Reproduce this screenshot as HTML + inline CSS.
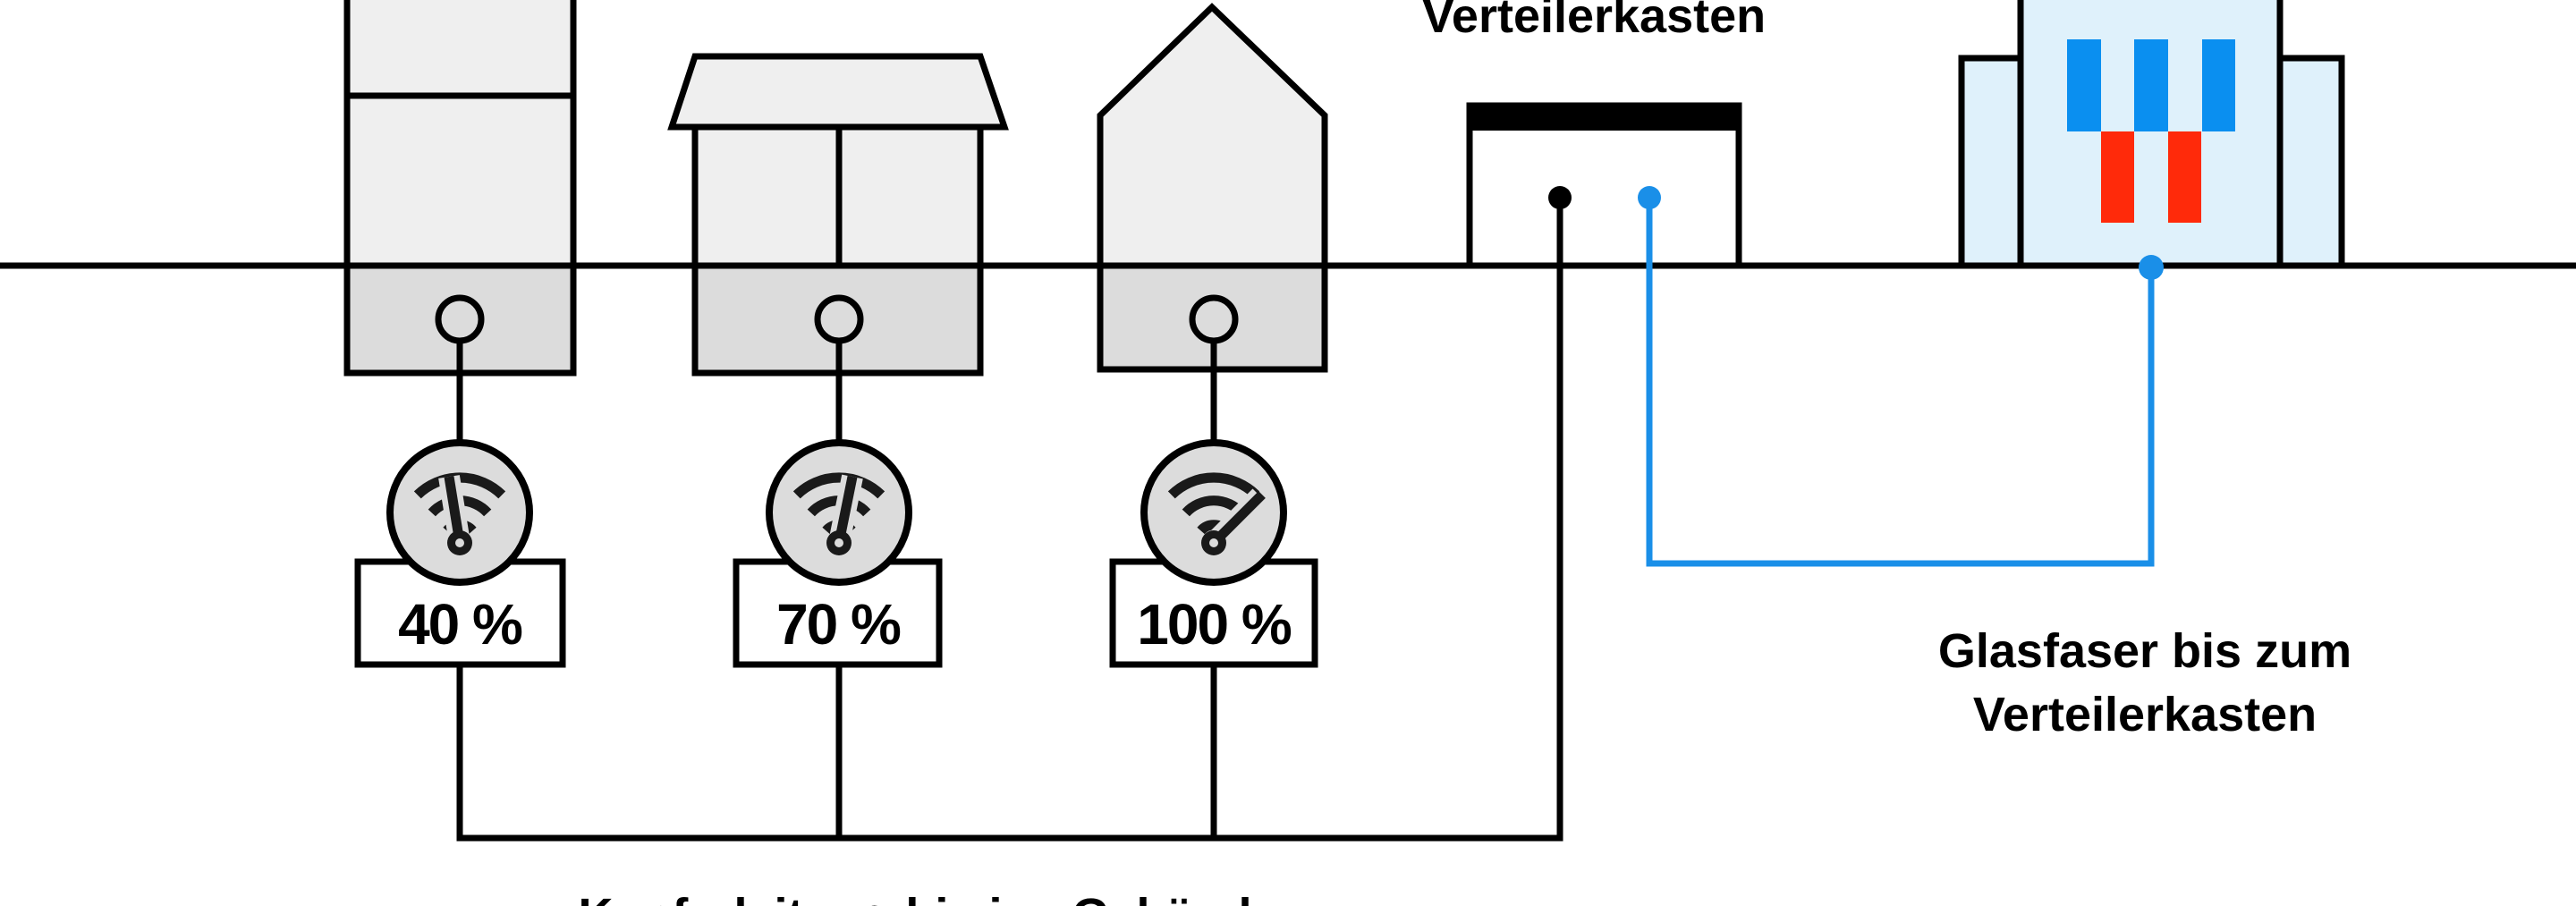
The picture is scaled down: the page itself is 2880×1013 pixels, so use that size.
<!DOCTYPE html>
<html><head><meta charset="utf-8"><style>
html,body{margin:0;padding:0;background:#fff;}
svg{display:block;}
text{font-family:"Liberation Sans",sans-serif;font-weight:bold;fill:#000;}
</style></head><body>
<svg width="2880" height="1013" viewBox="0 0 2880 1013" xmlns="http://www.w3.org/2000/svg">
<defs>
<g id="arcs" fill="none" stroke="#1a1a1a" stroke-width="14" transform="scale(0.8)">
  <path d="M-59,-67 A84,84 0 0 1 59,-67"/>
  <path d="M-39,-42 A53,53 0 0 1 39,-42"/>
  <path d="M-18,-17 A24,24 0 0 1 18,-17"/>
</g>
</defs>
<g stroke="#000" stroke-width="7">
<rect x="388" y="-10" width="253" height="307" fill="#efefef"/>
<rect x="388" y="297" width="253" height="120" fill="#dcdcdc"/>
<line x1="388" y1="107" x2="641" y2="107"/>
<rect x="777" y="142" width="319" height="155" fill="#efefef"/>
<rect x="777" y="297" width="319" height="120" fill="#dcdcdc"/>
<polygon points="777,63 1096,63 1123,142 751,142" fill="#efefef"/>
<line x1="938" y1="142" x2="938" y2="297"/>
<polygon points="1355,8 1481,129 1481,297 1230,297 1230,129" fill="#efefef"/>
<rect x="1230" y="297" width="251" height="116" fill="#dcdcdc"/>
<rect x="1643" y="118" width="301" height="179" fill="#fff"/>
<rect x="2193" y="65" width="425" height="232" fill="#dff1fb"/>
<rect x="2259" y="-10" width="290" height="307" fill="#dff1fb"/>
</g>
<rect x="1640" y="115" width="307" height="31" fill="#000"/>
<rect x="2311" y="44" width="38" height="103" fill="#0a8ff0"/>
<rect x="2386" y="44" width="38" height="103" fill="#0a8ff0"/>
<rect x="2462" y="44" width="37" height="103" fill="#0a8ff0"/>
<rect x="2349" y="147" width="37" height="102" fill="#ff2a0a"/>
<rect x="2424" y="147" width="37" height="102" fill="#ff2a0a"/>
<line x1="0" y1="297" x2="2880" y2="297" stroke="#000" stroke-width="7"/>
<g stroke="#000" stroke-width="7" fill="none">
<line x1="514" y1="380" x2="514" y2="500"/>
<line x1="938" y1="380" x2="938" y2="500"/>
<line x1="1357" y1="380" x2="1357" y2="500"/>
<polyline points="514,743 514,937 1744,937 1744,221"/>
<line x1="938" y1="743" x2="938" y2="937"/>
<line x1="1357" y1="743" x2="1357" y2="937"/>
</g>
<circle cx="514" cy="357" r="24" fill="#dcdcdc" stroke="#000" stroke-width="7"/>
<circle cx="938" cy="357" r="24" fill="#dcdcdc" stroke="#000" stroke-width="7"/>
<circle cx="1357" cy="357" r="24" fill="#dcdcdc" stroke="#000" stroke-width="7"/>
<circle cx="1744" cy="221" r="13" fill="#000"/>
<polyline points="1844,221 1844,630 2405,630 2405,299" fill="none" stroke="#1a8fe8" stroke-width="7"/>
<circle cx="1844" cy="221" r="13" fill="#1a8fe8"/>
<circle cx="2405" cy="299" r="14" fill="#1a8fe8"/>
<g stroke="#000" stroke-width="7" fill="#fff">
<rect x="400" y="628" width="229" height="115"/>
<rect x="823" y="628" width="227" height="115"/>
<rect x="1244" y="628" width="226" height="115"/>
</g>
<text x="514" y="720" font-size="64" text-anchor="middle" letter-spacing="-2">40 %</text>
<text x="937" y="720" font-size="64" text-anchor="middle" letter-spacing="-2">70 %</text>
<text x="1357" y="720" font-size="64" text-anchor="middle" letter-spacing="-2">100 %</text>
<g transform="translate(514,573)">
<circle r="78" fill="#dcdcdc" stroke="#000" stroke-width="8"/>
<g transform="translate(0,34)"><use href="#arcs"/>
<line x1="0" y1="0" x2="-12" y2="-74" stroke="#dcdcdc" stroke-width="24"/>
<line x1="0" y1="0" x2="-12" y2="-74" stroke="#1a1a1a" stroke-width="11"/>
<circle r="14" fill="#1a1a1a"/><circle r="5" fill="#dcdcdc"/></g>
</g>
<g transform="translate(938,573)">
<circle r="78" fill="#dcdcdc" stroke="#000" stroke-width="8"/>
<g transform="translate(0,34)"><use href="#arcs"/>
<line x1="0" y1="0" x2="15" y2="-74" stroke="#dcdcdc" stroke-width="24"/>
<line x1="0" y1="0" x2="15" y2="-74" stroke="#1a1a1a" stroke-width="11"/>
<circle r="14" fill="#1a1a1a"/><circle r="5" fill="#dcdcdc"/></g>
</g>
<g transform="translate(1357,573)">
<circle r="78" fill="#dcdcdc" stroke="#000" stroke-width="8"/>
<g transform="translate(0,34)"><use href="#arcs"/>
<line x1="0" y1="0" x2="52" y2="-52" stroke="#dcdcdc" stroke-width="24"/>
<line x1="0" y1="0" x2="54" y2="-54" stroke="#1a1a1a" stroke-width="11"/>
<circle r="14" fill="#1a1a1a"/><circle r="5" fill="#dcdcdc"/></g>
</g>
<text x="1782" y="36" font-size="54" text-anchor="middle">Verteilerkasten</text>
<text x="2398" y="746" font-size="54" text-anchor="middle">Glasfaser bis zum</text>
<text x="2398" y="817" font-size="54" text-anchor="middle">Verteilerkasten</text>
<text x="1038" y="1042" font-size="54" text-anchor="middle">Kupferleitung bis ins Gebäude</text>
</svg>
</body></html>
